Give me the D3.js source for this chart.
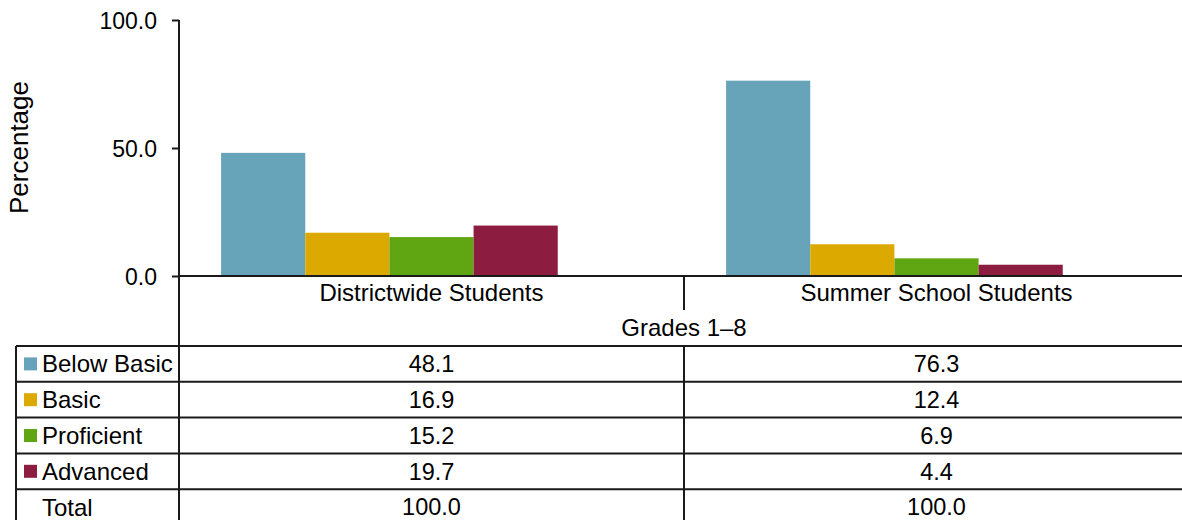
<!DOCTYPE html>
<html>
<head>
<meta charset="utf-8">
<script src="https://cdn.jsdelivr.net/npm/d3@7"></script>
<style>
  body { margin: 0; background: #fff; }
  svg { display: block; font-family: "Liberation Sans", Arial, sans-serif; }
  .tick text { font-size: 23px; fill: #000; }
</style>
</head>
<body>
<svg class="chart"></svg>
<script>
// data
var categories = ['Districtwide Students', 'Summer School Students'];
var seriesNames = ['Below Basic', 'Basic', 'Proficient', 'Advanced'];
var belowBasic = [48.1, 76.3];
var basic = [16.9, 12.4];
var proficient = [15.2, 6.9];
var advanced = [19.7, 4.4];
var totals = ['100.0', '100.0'];
var yTicks = [0, 50, 100];
var groupLabel = 'Grades 1\u20138';
var colors = ['#67a3b9', '#dba900', '#60a612', '#8c1c40'];

var W = 1182, H = 520;
var axisX = 179, y0 = 276, yTop = 20;
var tableLeft = 16, tableTop = 346, rowH = 35.8;
var catW = 505;
var lineCol = '#1a1a1a';

var seriesValues = [belowBasic, basic, proficient, advanced];

var svg = d3.select('.chart').attr('width', W).attr('height', H);

var y = d3.scaleLinear().domain([0, 100]).range([y0, yTop]);
var x0 = d3.scaleBand().domain(categories).range([axisX, axisX + catW * categories.length]);
// the 'Total' series takes a slot in each cluster but is not drawn
var x1 = d3.scaleBand().domain(seriesNames.concat(['Total']))
	.range([0, x0.bandwidth()]).paddingInner(0).paddingOuter(0.5);
function colMid(c) { return x0(c) + x0.bandwidth() / 2; }

// bars
var g = svg.append('g');
seriesNames.forEach(function(s, si) {
	g.selectAll('.bar-' + si)
		.data(categories)
	  .enter().append('rect')
		.attr('x', function(c) { return x0(c) + x1(s); })
		.attr('y', function(c, i) { return y(seriesValues[si][i]); })
		.attr('width', x1.bandwidth())
		.attr('height', function(c, i) { return y0 - y(seriesValues[si][i]); })
		.attr('fill', colors[si]);
});

// y axis
var yAxis = d3.axisLeft(y).tickValues(yTicks).tickFormat(d3.format('.1f')).tickSize(7).tickPadding(15);
var ya = svg.append('g').attr('transform', 'translate(' + axisX + ',0)').call(yAxis);
ya.select('.domain').remove();
ya.selectAll('.tick line').attr('stroke', lineCol).attr('stroke-width', 2);
ya.selectAll('.tick text').attr('dy', '0.35em');

svg.append('text')
	.attr('transform', 'translate(28,' + ((y0 + yTop) / 2 - 0.5) + ') rotate(-90)')
	.attr('text-anchor', 'middle')
	.attr('font-size', 26)
	.text('Percentage');

// grid / table lines
function hline(x1_, x2_, yy) {
	svg.append('line').attr('x1', x1_).attr('x2', x2_).attr('y1', yy).attr('y2', yy)
		.attr('stroke', lineCol).attr('stroke-width', 2);
}
function vline(xx, y1_, y2_) {
	svg.append('line').attr('x1', xx).attr('x2', xx).attr('y1', y1_).attr('y2', y2_)
		.attr('stroke', lineCol).attr('stroke-width', 2);
}

vline(axisX, yTop, H);
hline(axisX, W, y0);
var divX = x0(categories[1]);
vline(divX, y0, 310);
vline(divX, tableTop, H);
vline(tableLeft, tableTop, H);
for (var r = 0; r <= seriesNames.length + 1; r++) {
	hline(tableLeft, W, tableTop + r * rowH);
}

// category labels
svg.selectAll('.cat')
	.data(categories)
  .enter().append('text')
	.attr('x', colMid)
	.attr('y', 293)
	.attr('dy', '0.35em')
	.attr('text-anchor', 'middle')
	.attr('font-size', 24)
	.text(function(d) { return d; });

svg.append('text')
	.attr('x', divX)
	.attr('y', 328)
	.attr('dy', '0.35em')
	.attr('text-anchor', 'middle')
	.attr('font-size', 24)
	.text(groupLabel);

// table rows
var rows = seriesNames.map(function(s, si) {
	return { name: s, color: colors[si], vals: seriesValues[si].map(function(v) { return v.toFixed(1); }) };
});
rows.push({ name: 'Total', color: null, vals: totals });

var row = svg.selectAll('.row')
	.data(rows)
  .enter().append('g')
	.attr('transform', function(d, i) { return 'translate(0,' + (tableTop + i * rowH + rowH / 2) + ')'; });

row.filter(function(d) { return d.color; })
	.append('rect')
	.attr('x', 24).attr('y', -6.5).attr('width', 13).attr('height', 13)
	.attr('fill', function(d) { return d.color; });

row.append('text')
	.attr('x', 42)
	.attr('dy', '0.35em')
	.attr('font-size', 24)
	.text(function(d) { return d.name; });

row.selectAll('.val')
	.data(function(d) { return d.vals; })
  .enter().append('text')
	.attr('x', function(d, i) { return colMid(categories[i]); })
	.attr('dy', '0.35em')
	.attr('text-anchor', 'middle')
	.attr('font-size', 23.5)
	.text(function(d) { return d; });
</script>
</body>
</html>
